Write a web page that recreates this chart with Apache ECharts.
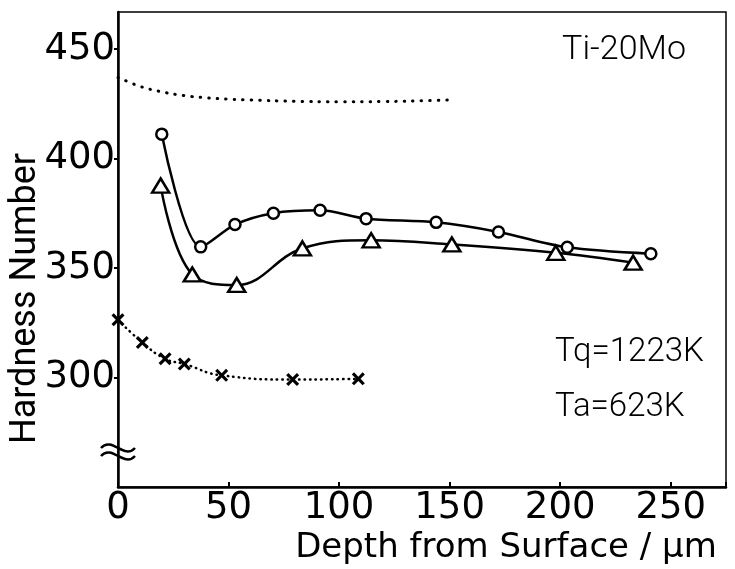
<!DOCTYPE html>
<html>
<head>
<meta charset="utf-8">
<script src="https://cdn.jsdelivr.net/npm/echarts@6/dist/echarts.min.js"></script>
<style>
html,body{margin:0;padding:0;background:#fff;}
#chart{width:735px;height:569px;}
</style>
</head>
<body>
<div id="chart"></div>
<script>
// ---- data ----
const xTickValues = [0, 50, 100, 150, 200, 250];
const yTickValues = [300, 350, 400, 450];

// upper dotted curve (no markers)
const topDepth = [0, 5, 10, 20, 30, 40, 50, 60, 80, 100, 120, 140, 150];
const topHv    = [437, 435, 433, 430.5, 428.8, 427.8, 427.2, 426.8, 426.2, 426, 426.1, 426.5, 426.8];

// open circles
const circDepth = [19.8, 37.4, 52.9, 70.3, 91.4, 112.2, 143.9, 172.1, 203.2, 241];
const circHv    = [411.2, 359.7, 369.9, 375.1, 376.4, 372.6, 370.9, 366.5, 359.5, 356.6];

// open triangles
const triDepth = [19.3, 33.6, 53.7, 83.4, 114.5, 151, 198, 233];
const triHv    = [387.7, 347.1, 342.3, 359, 362.7, 360.8, 357, 352.5];

// crosses (dotted)
const crossDepth = [0, 11, 21.3, 30, 46.9, 79, 108.7];
const crossHv    = [326.4, 316, 308.6, 306.2, 301, 299.1, 299.4];

const xName = 'Depth from Surface / μm';
const yName = 'Hardness Number';
const alloyText = 'Ti-20Mo';
const tqText = 'Tq=1223K';
const taText = 'Ta=623K';

const zip = (a, b) => a.map((v, i) => [v, b[i]]);
const FONT = 'DejaVu Sans';
const crossPath = 'path://M0,1.7L1.7,0L5,3.3L8.3,0L10,1.7L6.7,5L10,8.3L8.3,10L5,6.7L1.7,10L0,8.3L3.3,5Z';

const chart = echarts.init(document.getElementById('chart'), null, {renderer: 'canvas'});
const option = {
  backgroundColor: '#fff',
  animation: false,
  grid: {left: 118, right: 9, top: 12, bottom: 82, outerBoundsMode: 'none', containLabel: false,
         show: true, borderColor: '#000', borderWidth: 1.5, backgroundColor: 'transparent'},
  xAxis: {
    type: 'value', min: 0, max: 275, interval: 50,
    name: xName, nameLocation: 'middle', nameGap: 44, nameMoveOverlap: false,
    nameTextStyle: {fontFamily: 'DejaVu Sans', fontSize: 34, color: '#000', padding: [0, 0, 0, 168]},
    axisLine: {show: true, lineStyle: {color: '#000', width: 2.5}},
    axisTick: {show: true, inside: true, length: 5, lineStyle: {color: '#000', width: 2}},
    axisLabel: {
      fontFamily: FONT, fontSize: 37, color: '#000', margin: 3,
      formatter: v => xTickValues.indexOf(v) >= 0 ? String(v) : ''
    },
    splitLine: {show: false}
  },
  yAxis: {
    type: 'value', min: 250, max: 467, interval: 50,
    name: yName, nameLocation: 'middle', nameGap: 74, nameMoveOverlap: false,
    nameTextStyle: {fontFamily: 'Roboto', fontSize: 36, color: '#000', padding: [0, 98, 0, 0]},
    axisLine: {show: true, lineStyle: {color: '#000', width: 2.5}},
    axisTick: {show: true, inside: false, length: 4, lineStyle: {color: '#000', width: 2}},
    axisLabel: {
      fontFamily: FONT, fontSize: 37, color: '#000', margin: 3,
      showMinLabel: false, showMaxLabel: false,
      formatter: v => yTickValues.indexOf(v) >= 0 ? String(v) : ''
    },
    splitLine: {show: false}
  },
  series: [
    {
      type: 'line', data: zip(topDepth, topHv), smooth: true, symbol: 'none',
      lineStyle: {color: '#000', width: 3, type: [0.5, 8], cap: 'round'}
    },
    {
      type: 'line', data: zip(circDepth, circHv), smooth: 0.3, symbol: 'circle', symbolSize: 11,
      lineStyle: {color: '#000', width: 2.5},
      itemStyle: {color: '#fff', borderColor: '#000', borderWidth: 2.5}, z: 3
    },
    {
      type: 'line', data: zip(triDepth, triHv), smooth: 0.4, symbol: 'triangle', symbolSize: [17, 14],
      lineStyle: {color: '#000', width: 2.5},
      itemStyle: {color: '#fff', borderColor: '#000', borderWidth: 2.5}, z: 3
    },
    {
      type: 'line', data: zip(crossDepth, crossHv), smooth: true, symbol: crossPath, symbolSize: 13,
      lineStyle: {color: '#000', width: 2.5, type: [0.5, 5], cap: 'round'},
      itemStyle: {color: '#000'}, z: 3
    }
  ]
};
chart.setOption(option);

// annotations and axis-break mark
const brk = chart.convertToPixel({gridIndex: 0}, [0, 266]);
const waveShape = {x1: -17, y1: 0, x2: 17, y2: 0, cpx1: -6, cpy1: -12, cpx2: 6, cpy2: 12};
chart.setOption({
  graphic: [
    {type: 'text', right: 49, top: 33, style: {text: alloyText, fontFamily: 'Roboto', fontWeight: 300, fontSize: 34, fill: '#000'}},
    {type: 'text', left: 555, top: 336, style: {text: tqText, fontFamily: 'Roboto', fontWeight: 300, fontSize: 33, fill: '#000'}},
    {type: 'text', left: 555, top: 391, style: {text: taText, fontFamily: 'Roboto', fontWeight: 300, fontSize: 33, fill: '#000'}},
    {type: 'bezierCurve', x: brk[0], y: brk[1] - 4, shape: waveShape, style: {fill: null, stroke: '#000', lineWidth: 2.5}, z: 10},
    {type: 'bezierCurve', x: brk[0], y: brk[1] + 4, shape: waveShape, style: {fill: null, stroke: '#000', lineWidth: 2.5}, z: 10}
  ]
});
</script>
</body>
</html>
